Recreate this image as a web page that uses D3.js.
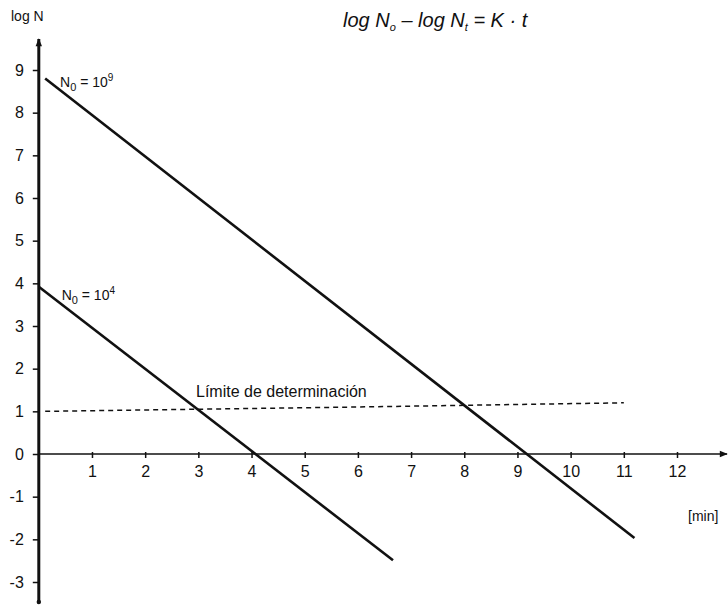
<!DOCTYPE html>
<html>
<head>
<meta charset="utf-8">
<script src="https://cdn.jsdelivr.net/npm/d3@7"></script>
<style>
  html, body { margin: 0; padding: 0; background: #fff; }
  svg { display: block; font-family: "Liberation Sans", Arial, sans-serif; }
</style>
</head>
<body>
<svg id="chart" width="728" height="605"></svg>
<script>
// Survivor curves: log N against time, for two initial loads
const xTicks = [1, 2, 3, 4, 5, 6, 7, 8, 9, 10, 11, 12];
const yTicks = [-3, -2, -1, 0, 1, 2, 3, 4, 5, 6, 7, 8, 9];

// [t (min), log N] end points of each straight survivor line
const highLoad = [[0.12, 8.8], [11.2, -1.97]];   // N0 = 10^9
const lowLoad = [[0.0, 3.92], [6.66, -2.49]];    // N0 = 10^4
// detection limit (dashed)
const limitLine = [[0.12, 1.0], [5.9, 1.1], [11.0, 1.2]];

const svg = d3.select("#chart");
const x = d3.scaleLinear().domain([0, 12]).range([38.8, 677]);
const y = d3.scaleLinear().domain([-3, 9]).range([582, 70]);

const ink = "#111";

// small arrowheads for the axes
svg.append("defs").append("marker")
  .attr("id", "arrow").attr("viewBox", "0 0 10 10")
  .attr("refX", 9).attr("refY", 5)
  .attr("markerUnits", "userSpaceOnUse")
  .attr("markerWidth", 9).attr("markerHeight", 8)
  .attr("orient", "auto")
  .append("path").attr("d", "M0,1 L10,5 L0,9 Z").attr("fill", ink);

const xAxis = d3.axisBottom(x).tickValues(xTicks).tickSize(4).tickPadding(8)
  .tickFormat(d3.format("d"));
const gx = svg.append("g").attr("transform", `translate(0,${y(0)})`).call(xAxis);
gx.select(".domain").remove();
gx.selectAll(".tick line").attr("stroke", ink).attr("stroke-width", 1.5).attr("y1", -2);
gx.selectAll(".tick text").attr("font-size", 16).attr("fill", ink);
svg.append("line")
  .attr("x1", x(0)).attr("x2", 727).attr("y1", y(0)).attr("y2", y(0))
  .attr("stroke", ink).attr("stroke-width", 1.6).attr("marker-end", "url(#arrow)");

// y axis
const yAxis = d3.axisLeft(y).tickValues(yTicks).tickSize(6).tickPadding(9)
  .tickFormat(d => d < 0 ? "-" + Math.abs(d) : String(d));
const gy = svg.append("g").attr("transform", `translate(${x(0)},0)`).call(yAxis);
gy.select(".domain").remove();
gy.selectAll(".tick line").attr("stroke", ink).attr("stroke-width", 1.5);
gy.selectAll(".tick text").attr("font-size", 16).attr("fill", ink);
svg.append("line")
  .attr("x1", x(0)).attr("x2", x(0)).attr("y1", 603).attr("y2", 39)
  .attr("stroke", ink).attr("stroke-width", 3).attr("marker-end", "url(#arrow)");
svg.append("circle").attr("cx", x(0)).attr("cy", 602).attr("r", 2.2).attr("fill", ink);

const line = d3.line().x(d => x(d[0])).y(d => y(d[1]));

svg.append("path").datum(limitLine).attr("d", line)
  .attr("fill", "none").attr("stroke", ink).attr("stroke-width", 1.5)
  .attr("stroke-dasharray", "5,4");

[highLoad, lowLoad].forEach(s => {
  svg.append("path").datum(s).attr("d", line)
    .attr("fill", "none").attr("stroke", ink).attr("stroke-width", 2.6);
});

// texts
svg.append("text").attr("x", 11).attr("y", 21).attr("font-size", 14)
  .attr("fill", ink).text("log N");

const title = svg.append("text").attr("x", 343).attr("y", 27)
  .attr("font-size", 20).attr("font-style", "italic").attr("fill", ink);
title.append("tspan").text("log N");
title.append("tspan").attr("font-size", 11).attr("dy", 4).text("o");
title.append("tspan").attr("dy", -4).text(" – log N");
title.append("tspan").attr("font-size", 11).attr("dy", 4).text("t");
title.append("tspan").attr("dy", -4).text(" = K · t");

function loadLabel(px, py, exp) {
  const t = svg.append("text").attr("x", px).attr("y", py)
    .attr("font-size", 14).attr("fill", ink);
  t.append("tspan").text("N");
  t.append("tspan").attr("font-size", 11).attr("dy", 4).text("0");
  t.append("tspan").attr("dy", -4).text(" = 10");
  t.append("tspan").attr("font-size", 10).attr("dy", -6).text(exp);
}
loadLabel(x(0.4), y(8.6), "9");
loadLabel(x(0.43), y(3.6), "4");

svg.append("text").attr("x", 196).attr("y", 397).attr("font-size", 16)
  .attr("fill", ink).text("Límite de determinación");

svg.append("text").attr("x", 688).attr("y", 521).attr("font-size", 14)
  .attr("fill", ink).text("[min]");
</script>
</body>
</html>
